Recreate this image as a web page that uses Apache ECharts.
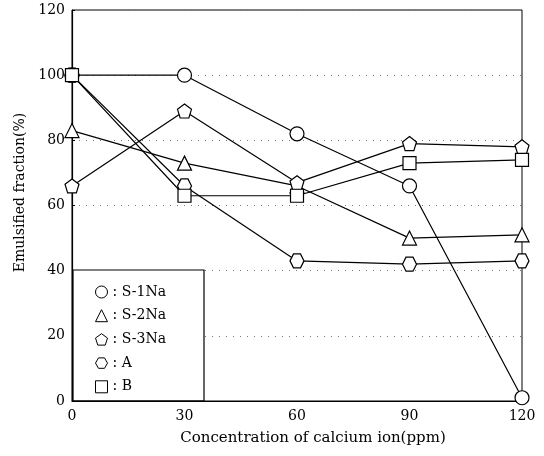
<!DOCTYPE html>
<html>
<head>
<meta charset="utf-8">
<script src="https://cdn.jsdelivr.net/npm/echarts@6/dist/echarts.min.js"></script>
<style>
  html, body { margin: 0; padding: 0; background: #fff; }
  #box { width: 544px; height: 456px; }
</style>
</head>
<body>
<div id="box"></div>
<script>
// calcium ion concentration (ppm)
const xValues = [0, 30, 60, 90, 120];
const seriesNames = ['S-1Na', 'S-2Na', 'S-3Na', 'A', 'B'];
// emulsified fraction (%)
const s1Na = [100, 100, 82, 66, 1];
const s2Na = [83, 73, 66, 50, 51];
const s3Na = [66, 89, 67, 79, 78];
const aVals = [100, 66, 43, 42, 43];
const bVals = [100, 63, 63, 73, 74];

const pentagon = 'path://M0,-10 L9.5,-3.1 L5.9,8.1 L-5.9,8.1 L-9.5,-3.1 Z';
const hexagon = 'path://M-10,0 L-5,-8.7 L5,-8.7 L10,0 L5,8.7 L-5,8.7 Z';
const symbols = ['circle', 'triangle', pentagon, hexagon, 'rect'];
const sizes = [14, 14, 14, 14, 13];
const allValues = [s1Na, s2Na, s3Na, aVals, bVals];

const serif = 'DejaVu Serif';

const graph = echarts.init(document.getElementById('box'));
graph.setOption({
  animation: false,
  textStyle: { fontFamily: serif, color: '#000' },
  grid: {
    left: 72, right: 22, top: 10, bottom: 55,
    show: true,
    borderColor: '#000',
    borderWidth: 1
  },
  xAxis: {
    type: 'value',
    min: 0, max: 120, interval: 30,
    name: 'Concentration of calcium ion(ppm)',
    nameLocation: 'middle',
    nameGap: 30,
    nameTextStyle: { fontSize: 15, color: '#000', fontFamily: serif, padding: [0, 0, 0, 32] },
    axisLine: { lineStyle: { color: '#000', width: 1.2 } },
    axisTick: { show: false },
    axisLabel: { margin: 8, fontSize: 14, color: '#000', fontFamily: serif },
    splitLine: { show: false }
  },
  yAxis: {
    type: 'value',
    min: 0, max: 120, interval: 20,
    name: 'Emulsified fraction(%)',
    nameLocation: 'middle',
    nameGap: 33,
    nameTextStyle: { fontSize: 14, color: '#000', fontFamily: serif, padding: [0, 0, 0, 26] },
    axisLine: { show: true, lineStyle: { color: '#000', width: 1.2 } },
    axisTick: { show: true, inside: true, length: 3, lineStyle: { color: '#000' } },
    axisLabel: { margin: 7, fontSize: 14, color: '#000', fontFamily: serif },
    splitLine: { show: true, lineStyle: { color: '#777', type: [1, 6], width: 1 } }
  },
  legend: {
    orient: 'vertical',
    left: 73,
    top: 270,
    padding: [15, 38, 7, 22],
    itemGap: 9.7,
    itemWidth: 12,
    itemHeight: 12,
    backgroundColor: '#fff',
    borderColor: '#000',
    borderWidth: 1.2,
    borderRadius: 0,
    formatter: ': {name}',
    textStyle: { fontSize: 14, color: '#000', fontFamily: serif },
    itemStyle: { color: '#fff', borderColor: '#000', borderWidth: 1 },
    data: seriesNames.map((n, i) => ({ name: n, icon: symbols[i] }))
  },
  series: seriesNames.map((n, i) => ({
    name: n,
    type: 'line',
    data: xValues.map((x, j) => [x, allValues[i][j]]),
    symbol: symbols[i],
    symbolSize: sizes[i],
    showAllSymbol: true,
    lineStyle: { color: '#000', width: 1.2 },
    itemStyle: { color: '#fff', borderColor: '#000', borderWidth: 1.2 },
    z: 2 + i
  }))
});
</script>
</body>
</html>
